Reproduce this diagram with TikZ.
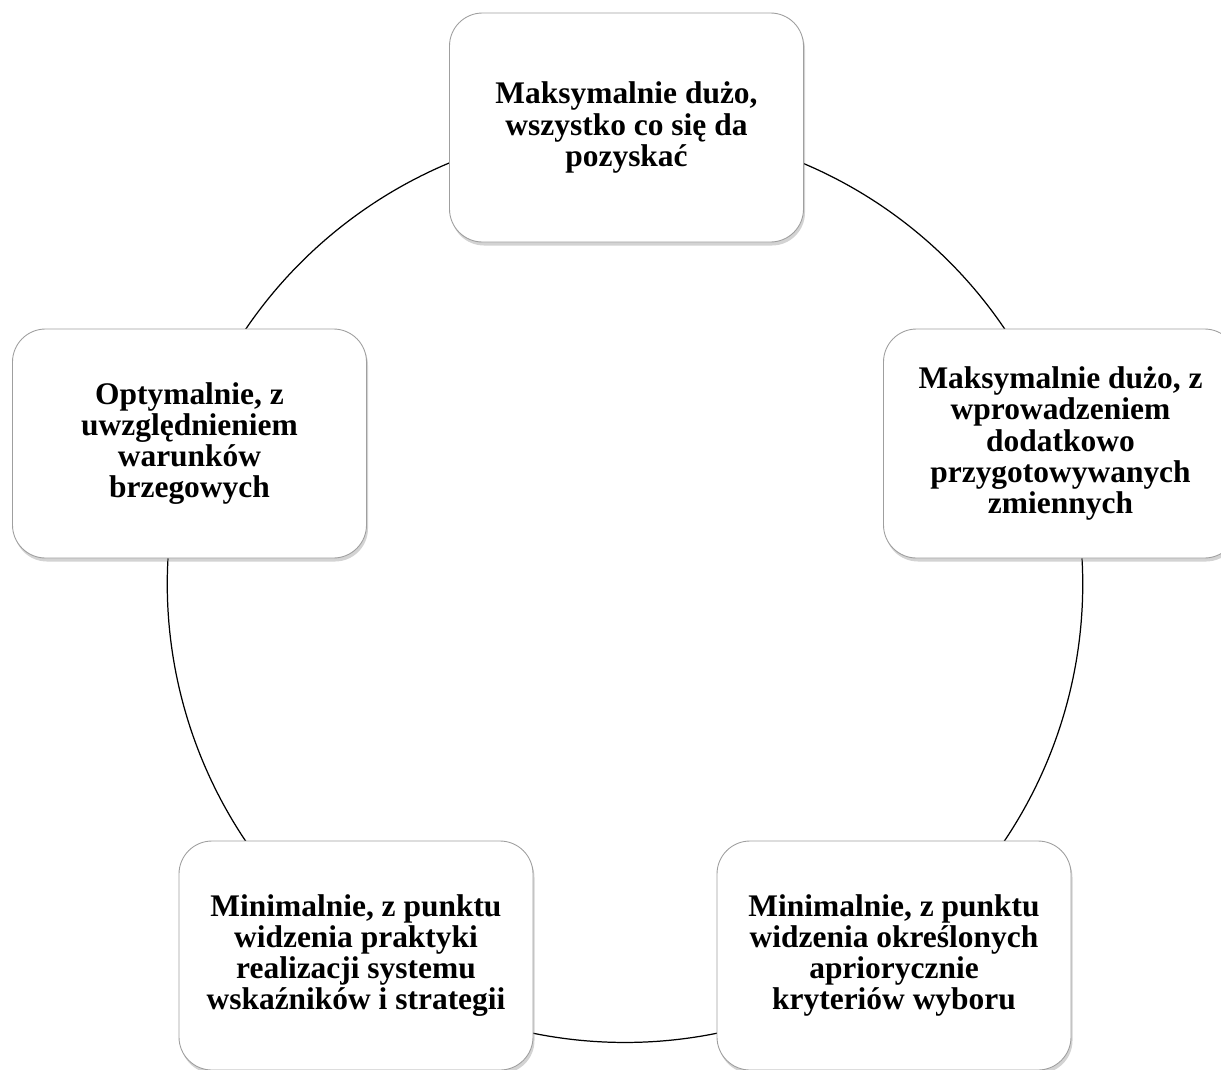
\documentclass[tikz,border=0pt]{standalone}
\usepackage{fontspec}
\setmainfont{Liberation Serif}
\usepackage{tikz}
\usetikzlibrary{shadows, backgrounds}

\begin{document}
\begin{tikzpicture}[font=\fontsize{17.9}{17.8}\selectfont\bfseries]
        % Setup the style for the boxes
        \tikzset{box style/.style={rectangle,
                                   rounded corners=0.66cm,
                                   minimum width=7.08cm,
                                   minimum height=4.58cm,
                                   align=center,
                                   draw=gray!75,
                                   line width=0.5pt,
                                   fill=white,
                                   drop shadow={shadow xshift=0.03cm,
                                                shadow yshift=-0.07cm,
                                                opacity=0.35}}}

        \useasboundingbox (0,0) rectangle (24.42,-21.38);

        % Draw the boxes
        \node[box style] at (12.53, -2.55)  (maxall)   {Maksymalnie dużo,\\ wszystko co się da\\ pozyskać};
        \node[box style] at (21.21, -8.87)  (maxextra) {Maksymalnie dużo, z\\ wprowadzeniem\\ dodatkowo\\ przygotowywanych\\ zmiennych};
        \node[box style] at (17.88, -19.11) (minkrit)  {Minimalnie, z punktu\\ widzenia określonych\\ apriorycznie\\ kryteriów wyboru};
        \node[box style] at (7.12, -19.11)  (minprakt) {Minimalnie, z punktu\\ widzenia praktyki\\ realizacji systemu\\ wskaźników i strategii};
        \node[box style] at (3.79, -8.87)   (optim)    {Optymalnie, z\\ uwzględnieniem\\ warunków\\ brzegowych};

        % Connect the boxes along the circle
        \begin{scope}[on background layer]
        \draw[line width=0.7pt, looseness=0.94]
            (maxall.center)   edge[bend left=36] (maxextra.center)
            (maxextra.center) edge[bend left=36] (minkrit.center)
            (minkrit.center)  edge[bend left=36] (minprakt.center)
            (minprakt.center) edge[bend left=36] (optim.center)
            (optim.center)    edge[bend left=36] (maxall.center);
        \end{scope}
\end{tikzpicture}
\end{document}
